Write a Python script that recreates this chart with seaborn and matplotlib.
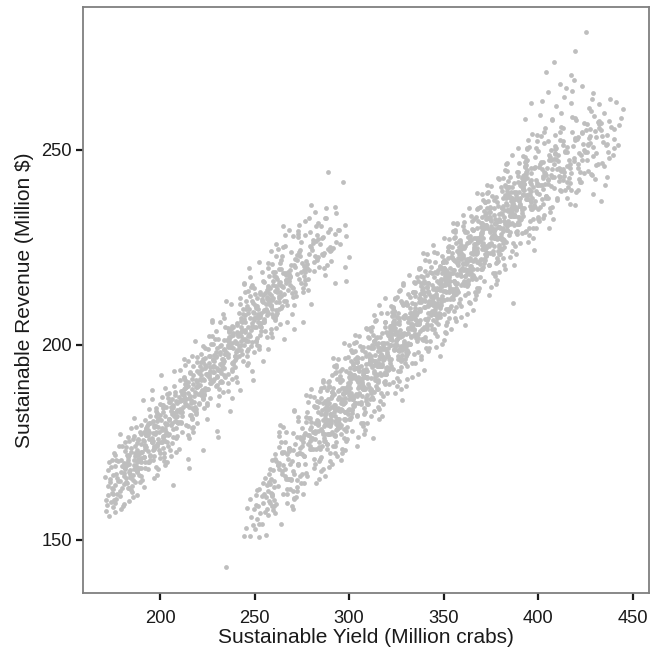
import matplotlib
matplotlib.use("Agg")
import matplotlib.pyplot as plt
import seaborn as sns
import pandas as pd

# ---- points, grouped in small vertical strips: ([yields], [revenues]) ----
left_a = [
    ([171.2, 170.8, 171.6], [160.3, 166.1, 157.4]),
    ([172.3, 171.9, 172.5], [163.8, 158.9, 168.0]),
    ([173.1, 172.7, 173.4, 173.0], [156.2, 161.5, 165.7, 170.1]),
    ([174.2, 173.8, 174.5, 174.1], [159.8, 164.9, 162.0, 168.6]),
    ([175.3, 174.9, 175.1, 175.6, 174.7], [158.5, 166.7, 161.9, 172.3, 163.4]),
    ([176.2, 175.8, 176.4, 176.0, 176.7], [169.0, 160.2, 164.1, 157.3, 166.8]),
    ([178.7, 174.6, 177.5, 176.1, 179.9], [162.6, 170.5, 165.9, 159.4, 174.0]),
    ([174.9, 179.2, 176.4, 180.2, 177.7], [163.0, 167.4, 171.8, 158.7, 165.1]),
    ([179.8, 177.0, 181.6, 180.7, 176.6, 179.5], [168.9, 161.7, 175.2, 164.4, 170.6, 157.9]),
    ([179.1, 182.9, 176.9, 181.2, 178.4], [165.2, 171.3, 160.5, 168.7, 174.1]),
    ([183.2, 180.7, 181.8, 179.0, 183.6, 182.7], [163.3, 169.8, 166.0, 177.2, 160.1, 171.9]),
    ([179.6, 182.5, 181.1, 184.9, 178.9], [170.4, 164.7, 167.1, 178.6, 161.2]),
    ([184.2, 181.4, 185.2, 182.7, 183.8, 181.0], [166.9, 172.8, 162.4, 169.7, 175.3, 159.3]),
    ([186.6, 185.7, 181.6, 184.5, 183.1], [171.5, 165.4, 168.2, 162.7, 176.4]),
    ([187.9, 181.9, 186.2, 183.4, 187.2, 184.7], [167.5, 173.9, 170.6, 163.2, 178.9, 165.8]),
    ([186.8, 184.0, 188.6, 187.7, 183.6, 186.5], [172.2, 168.0, 175.6, 161.6, 169.5, 181.4]),
    ([186.1, 189.9, 183.9, 188.2, 185.4, 189.2], [169.3, 174.7, 166.1, 171.9, 163.9, 177.8]),
    ([187.7, 188.8, 186.0, 190.6, 189.7, 185.6], [173.0, 168.4, 176.6, 165.3, 171.1, 160.9]),
    ([189.5, 188.1, 191.9, 185.9, 190.2, 187.4], [170.2, 175.8, 173.4, 166.7, 179.5, 168.9]),
    ([192.2, 189.7, 190.8, 188.0, 192.6, 191.7, 187.6], [174.3, 170.0, 186.0, 167.6, 176.9, 163.5, 172.1]),
    ([191.5, 190.1, 193.9, 187.9, 192.2, 189.4], [171.4, 177.3, 168.2, 174.8, 180.7, 164.9]),
    ([194.2, 191.7, 192.8, 190.0, 194.6, 193.7], [176.0, 171.2, 173.9, 168.4, 181.9, 178.2]),
    ([190.6, 193.5, 192.1, 195.9, 189.9, 194.2], [172.5, 177.6, 169.9, 175.2, 166.3, 183.7]),
    ([192.4, 196.2, 193.7, 194.8, 192.0, 196.6], [176.9, 173.1, 179.8, 170.4, 174.0, 165.8]),
    ([196.7, 192.6, 195.5, 194.1, 197.9, 191.9, 196.2], [173.7, 178.5, 176.2, 170.1, 183.0, 168.4, 180.6]),
    ([194.4, 198.2, 195.7, 196.8, 194.0, 198.6], [177.7, 174.2, 188.4, 171.6, 179.9, 166.7]),
    ([198.7, 194.6, 197.5, 196.1, 199.9, 193.9], [174.9, 180.1, 177.3, 170.5, 184.8, 172.8]),
    ([199.2, 196.4, 200.2, 197.7, 198.8, 196.0], [179.0, 175.5, 172.2, 181.7, 168.1, 186.2]),
    ([201.6, 200.7, 196.6, 199.5, 198.1, 201.9], [176.1, 180.8, 178.9, 173.0, 183.9, 170.3]),
    ([196.9, 201.2, 198.4, 202.2, 199.7, 200.8, 198.0], [179.6, 175.2, 182.5, 171.4, 177.8, 186.7, 168.6]),
    ([203.6, 202.7, 198.6, 201.5, 200.1, 203.9], [177.2, 181.9, 174.5, 184.6, 170.9, 179.7]),
    ([198.9, 203.2, 200.4, 204.2, 201.7, 202.8], [181.0, 177.6, 192.3, 174.1, 183.8, 169.2]),
    ([201.0, 205.6, 204.7, 200.6, 203.5, 202.1], [178.3, 183.1, 180.9, 175.0, 187.4, 172.4]),
    ([206.9, 200.9, 205.2, 202.4, 206.2, 203.7], [182.6, 178.7, 185.5, 175.3, 180.0, 170.0]),
    ([205.8, 203.0, 207.6, 206.7, 202.6, 205.5, 204.1], [179.6, 184.2, 181.8, 176.4, 188.9, 173.1, 186.3]),
    ([208.9, 202.9, 207.2, 204.4, 208.2, 205.7], [183.4, 179.9, 193.3, 176.9, 185.7, 171.5]),
    ([207.8, 205.0, 206.9, 208.7, 204.6, 207.5], [180.6, 185.5, 164.2, 182.9, 177.3, 189.6]),
    ([207.1, 210.9, 204.9, 209.2, 206.4, 210.2], [184.7, 180.0, 187.8, 176.6, 182.2, 173.4]),
    ([208.7, 209.8, 207.0, 211.6, 210.7, 206.6], [181.5, 186.6, 184.1, 177.8, 190.9, 174.9]),
    ([210.5, 209.1, 212.9, 206.9, 211.2, 208.4, 212.2], [185.7, 181.9, 196.5, 178.5, 188.3, 172.6, 184.0]),
]
left_b = [
    ([210.7, 211.8, 209.0, 213.6, 212.7, 208.6], [182.8, 187.4, 185.2, 179.4, 191.8, 176.1]),
    ([212.5, 211.1, 214.9, 208.9, 213.2, 210.4], [186.9, 183.3, 170.8, 180.2, 189.9, 193.6]),
    ([215.2, 212.7, 213.8, 211.0, 215.6, 214.7], [184.0, 188.8, 186.2, 180.3, 192.7, 177.0]),
    ([211.6, 214.5, 213.1, 216.9, 210.9, 215.2], [188.1, 184.6, 191.0, 181.2, 186.0, 176.2]),
    ([213.4, 217.2, 214.7, 215.8, 213.0, 217.6, 216.7], [185.2, 189.9, 187.6, 182.0, 194.8, 179.0, 197.3]),
    ([213.6, 216.5, 215.1, 218.9, 212.9, 217.2], [189.2, 185.8, 168.5, 182.9, 191.6, 177.7]),
    ([215.4, 219.2, 216.7, 217.8, 215.0, 219.6], [186.3, 191.0, 188.7, 183.2, 195.9, 180.1]),
    ([219.7, 215.6, 218.5, 217.1, 220.9, 214.9], [190.4, 186.8, 201.0, 183.9, 193.3, 179.2]),
    ([220.2, 217.4, 221.2, 218.7, 219.8, 217.0], [187.5, 192.2, 189.8, 184.1, 196.8, 181.1]),
    ([222.6, 221.7, 217.6, 220.5, 219.1, 222.9, 216.9], [191.4, 187.9, 194.6, 184.9, 189.3, 199.7, 178.8]),
    ([222.2, 219.4, 223.2, 220.7, 221.8, 219.0], [188.5, 193.3, 190.9, 185.2, 197.8, 182.4]),
    ([224.6, 223.7, 219.6, 222.5, 221.1, 224.9], [192.6, 189.0, 195.7, 186.1, 191.2, 181.0]),
    ([219.9, 224.2, 222.8, 225.2, 222.7, 223.8], [189.7, 194.5, 173.0, 192.0, 186.4, 199.1]),
    ([222.0, 226.6, 225.7, 221.6, 224.5, 223.1], [193.8, 190.2, 197.1, 187.3, 192.6, 183.8]),
    ([227.9, 221.9, 226.2, 223.4, 227.2, 224.7, 225.8], [190.8, 195.6, 193.2, 187.5, 200.3, 184.6, 202.3]),
    ([224.0, 228.6, 227.7, 223.6, 226.5, 225.1], [194.9, 191.3, 206.4, 188.4, 197.2, 185.0]),
    ([229.9, 223.9, 228.2, 225.4, 229.2, 226.7], [192.0, 196.7, 194.3, 188.7, 201.6, 186.3]),
    ([228.8, 226.0, 230.6, 229.7, 225.6, 228.5], [196.0, 192.5, 176.5, 189.5, 199.0, 194.7]),
    ([228.1, 231.9, 225.9, 230.2, 227.4, 231.2], [193.1, 197.8, 195.4, 189.7, 202.4, 186.9]),
    ([229.7, 230.8, 228.0, 232.6, 231.7, 227.6, 230.5], [197.1, 193.6, 200.3, 190.6, 195.0, 205.8, 184.5]),
    ([230.1, 233.9, 227.9, 232.2, 229.4, 233.2], [194.2, 198.9, 196.5, 190.8, 203.5, 187.9]),
    ([231.7, 232.8, 230.0, 234.6, 233.7, 229.6], [198.3, 194.7, 178.0, 191.8, 201.3, 196.9]),
    ([233.5, 232.1, 235.9, 229.9, 234.2, 231.4], [195.3, 200.1, 197.7, 191.9, 204.6, 188.6]),
    ([236.2, 233.7, 234.8, 232.0, 236.6, 235.7], [199.4, 195.9, 211.2, 192.9, 202.0, 188.1]),
    ([232.6, 235.5, 234.1, 237.9, 231.9, 236.2, 233.4], [196.5, 201.2, 198.8, 193.2, 205.8, 190.2, 208.0]),
    ([238.2, 235.7, 236.8, 234.0, 238.6, 237.7], [200.5, 197.0, 183.0, 194.1, 203.1, 199.5]),
    ([234.6, 237.5, 236.1, 239.9, 233.9, 238.2], [197.6, 202.4, 200.0, 194.3, 207.0, 191.4]),
    ([236.4, 240.2, 237.7, 238.8, 236.0, 240.6], [201.6, 198.2, 210.5, 195.2, 204.4, 190.5]),
    ([240.7, 236.6, 239.5, 238.1, 241.9, 235.9], [198.8, 203.5, 201.1, 195.4, 208.2, 192.6]),
    ([241.2, 238.4, 242.2, 239.7, 240.8, 238.0, 242.6], [202.8, 199.3, 212.0, 196.2, 205.6, 186.5, 201.0]),
    ([242.7, 238.6, 241.5, 240.1, 243.9, 237.9], [199.9, 204.6, 202.2, 196.6, 209.3, 193.8]),
    ([243.2, 240.4, 244.2, 241.7, 242.8, 240.0], [203.9, 200.5, 216.0, 197.3, 206.8, 191.9]),
    ([245.6, 244.7, 240.6, 243.5, 242.1, 245.9], [201.0, 205.8, 203.4, 197.6, 210.4, 194.9]),
    ([240.9, 245.2, 242.4, 246.2, 243.7, 244.8], [205.1, 201.6, 188.5, 198.5, 208.0, 213.7]),
    ([243.0, 247.6, 246.7, 242.6, 245.5, 244.1, 247.9], [202.2, 206.9, 204.5, 198.8, 211.4, 196.0, 214.9]),
    ([242.9, 247.2, 244.4, 248.2, 245.7, 246.8], [206.2, 202.7, 215.6, 199.7, 209.1, 195.4]),
    ([245.0, 249.6, 248.7, 244.6, 247.5, 246.1], [203.3, 208.1, 205.6, 199.9, 212.6, 197.1]),
    ([250.9, 244.9, 249.2, 246.4, 250.2, 247.7], [207.3, 203.8, 191.0, 200.9, 210.2, 217.4]),
    ([249.8, 247.0, 251.6, 250.7, 246.6, 249.5], [204.5, 209.2, 206.8, 201.1, 213.8, 198.3]),
    ([249.1, 252.9, 246.9, 251.2, 248.4, 252.2, 249.7], [208.4, 205.0, 219.7, 201.9, 211.3, 199.0, 214.7]),
]
left_c = [
    ([251.8, 249.0, 253.6, 252.7, 248.6, 251.5], [205.9, 210.7, 208.3, 202.6, 215.3, 199.9]),
    ([251.1, 254.9, 248.9, 253.2, 250.4, 254.2], [210.0, 206.6, 193.4, 203.5, 213.0, 218.8]),
    ([252.7, 253.8, 251.0, 255.6, 254.7, 250.6], [207.1, 211.8, 209.5, 203.7, 216.4, 200.9]),
    ([254.5, 253.1, 256.9, 250.9, 255.2, 252.4], [211.1, 207.7, 214.5, 204.6, 209.0, 199.8]),
    ([257.2, 254.7, 255.8, 253.0, 257.6, 256.7, 252.6], [208.2, 212.9, 210.6, 204.8, 217.6, 202.0, 221.4]),
    ([256.5, 255.1, 258.9, 252.9, 257.2, 254.4], [212.2, 208.8, 224.0, 205.7, 215.1, 196.0]),
    ([259.2, 256.7, 257.8, 255.0, 259.6, 258.7], [209.3, 214.1, 211.6, 206.0, 218.7, 203.1]),
    ([255.6, 258.5, 257.1, 260.9, 254.9, 259.2], [213.3, 209.9, 221.1, 206.8, 216.2, 202.0]),
    ([257.4, 261.2, 258.7, 259.8, 257.0, 261.6], [210.5, 215.2, 212.8, 207.1, 219.8, 204.3]),
    ([261.7, 257.6, 260.5, 259.1, 262.9, 256.9, 261.2], [214.4, 210.9, 217.6, 207.9, 212.1, 199.0, 222.7]),
    ([259.4, 263.2, 260.7, 261.8, 259.0, 263.6], [211.5, 216.2, 213.9, 208.1, 220.8, 205.3]),
    ([263.7, 259.6, 262.5, 261.1, 264.9, 258.9], [215.5, 212.0, 224.6, 209.0, 218.4, 204.1]),
    ([264.2, 261.4, 265.2, 262.7, 263.8, 261.0], [212.6, 217.3, 214.9, 209.2, 221.9, 206.4]),
    ([266.6, 265.7, 261.6, 264.5, 263.1, 266.9], [216.6, 213.1, 226.0, 210.1, 219.5, 205.8]),
    ([261.9, 266.2, 265.0, 267.2, 264.7, 265.8, 263.0], [213.7, 218.4, 230.4, 210.3, 222.7, 201.5, 216.0]),
    ([268.6, 267.7, 263.6, 266.5, 265.1], [217.7, 214.2, 221.1, 211.2, 225.0]),
    ([269.9, 263.9, 268.2, 265.4, 269.2], [214.8, 219.5, 217.1, 211.4, 223.8]),
    ([267.7, 268.8, 266.0, 270.6, 269.7], [218.8, 215.3, 228.3, 212.2, 207.9]),
    ([266.6, 269.5, 268.1, 271.9, 265.9], [215.9, 220.6, 218.2, 212.5, 225.3]),
    ([271.2, 268.4, 272.2, 269.7, 270.8, 268.0], [219.9, 216.4, 223.1, 213.4, 204.0, 229.5]),
    ([273.6, 272.7, 268.6, 271.5, 270.1], [217.0, 221.7, 219.3, 213.6, 227.9]),
    ([274.9, 268.9, 273.2, 270.4, 274.2], [221.0, 217.5, 228.5, 214.5, 224.3]),
    ([272.7, 273.8, 271.0, 275.6, 274.7], [218.1, 222.8, 220.4, 214.7, 226.4]),
    ([271.6, 274.5, 273.1, 276.9, 270.9], [222.1, 218.6, 229.3, 215.6, 210.2]),
    ([276.2, 273.4, 277.2, 274.7, 275.8, 273.0], [219.2, 223.9, 221.5, 215.8, 206.0, 227.6]),
    ([278.6, 277.7, 273.6, 276.5], [223.2, 219.7, 230.8, 216.7]),
    ([276.1, 279.9, 276.7, 278.2, 275.4], [220.3, 225.0, 231.7, 216.9, 213.5]),
    ([280.2, 277.7, 278.8, 276.0], [224.3, 220.8, 232.5, 217.8]),
    ([281.6, 280.7, 276.6, 279.5], [221.4, 226.1, 218.6, 229.0]),
    ([279.1, 282.9, 276.9, 281.2, 278.4], [225.4, 221.9, 228.2, 218.9, 214.0]),
    ([283.2, 280.7, 281.8, 279.0], [222.2, 226.9, 234.0, 219.1]),
    ([284.6, 283.7, 279.6, 282.5], [226.0, 222.5, 236.0, 230.4]),
    ([282.1, 285.9, 279.9, 284.2], [222.8, 227.5, 210.5, 219.9]),
    ([282.4, 286.2, 283.7], [226.6, 223.1, 231.2]),
    ([285.8, 283.0, 287.6, 286.7], [223.4, 228.1, 235.1, 219.8]),
    ([283.6, 286.5, 285.1], [227.2, 223.7, 230.6]),
    ([289.9, 287.0, 288.2], [224.0, 232.5, 220.4]),
    ([286.4, 290.2], [227.8, 224.3]),
    ([288.7, 289.8, 287.0], [224.6, 229.7, 218.0]),
    ([292.6, 291.7, 287.6, 290.5], [228.4, 224.9, 232.6, 221.5]),
    ([290.1, 293.9], [225.2, 229.4]),
    ([288.9, 293.2, 292.6], [229.0, 233.9, 235.5]),
    ([295.2, 292.7], [225.8, 216.0]),
    ([294.8, 293.0, 297.6], [229.6, 226.4, 220.0]),
    ([297.6, 298.2, 298.4, 299.9], [230.7, 216.5, 228.0, 222.5]),
]
left_core = [
    ([181.8, 177.8, 181.4, 179.9, 184.6, 183.8], [164.8, 170.2, 168.8, 163.2, 172.5, 167.4]),
    ([180.8, 183.4, 182.9, 186.6, 186.8, 182.8], [166.5, 171.9, 170.5, 164.9, 174.2, 169.1]),
    ([186.4, 184.9, 189.6, 188.8, 185.8, 188.4], [168.2, 173.6, 172.2, 166.6, 175.9, 170.8]),
    ([187.9, 191.6, 191.8, 187.8, 191.4, 189.9], [169.9, 175.3, 174.0, 168.4, 177.6, 172.5]),
    ([194.6, 193.8, 190.8, 193.4, 192.9, 196.6], [171.6, 177.0, 175.7, 170.1, 179.3, 174.2]),
    ([196.8, 192.8, 196.4, 194.9, 199.6, 198.8], [173.3, 178.7, 177.4, 171.8, 181.0, 175.9]),
    ([195.8, 198.4, 197.9, 201.6, 201.8, 197.8], [175.0, 180.4, 179.1, 173.5, 182.8, 177.7]),
    ([201.4, 199.9, 204.6, 203.8, 200.8, 203.4], [176.7, 182.1, 180.8, 175.2, 184.5, 179.4]),
    ([202.9, 206.6, 206.8, 202.8, 206.4, 204.9], [178.4, 183.8, 182.5, 176.9, 186.2, 181.1]),
    ([209.6, 208.8, 205.8, 208.4, 207.9, 211.6], [180.1, 185.5, 184.2, 178.6, 187.9, 182.8]),
    ([211.8, 207.8, 211.4, 209.9, 214.6, 213.8], [181.8, 187.2, 185.9, 180.3, 189.6, 184.5]),
    ([210.8, 213.4, 212.9, 216.6, 216.8, 212.8], [183.5, 188.9, 187.6, 182.0, 191.3, 186.2]),
    ([216.4, 214.9, 219.6, 218.8, 215.8, 218.4], [185.2, 190.6, 189.3, 183.7, 193.0, 187.9]),
    ([217.9, 221.6, 221.8, 217.8, 221.4, 219.9], [186.9, 192.3, 191.0, 185.4, 194.7, 189.6]),
    ([224.6, 223.8, 220.8, 223.4, 222.9, 226.6], [188.6, 194.0, 192.7, 187.1, 196.4, 191.3]),
    ([226.8, 222.8, 226.4, 224.9, 229.6, 228.8], [190.3, 195.7, 194.4, 188.8, 198.1, 193.0]),
    ([225.8, 228.4, 227.9, 231.6, 231.8, 227.8], [192.0, 197.4, 196.1, 190.5, 199.8, 194.7]),
    ([231.4, 229.9, 234.6, 233.8, 230.8, 233.4], [193.7, 199.1, 197.8, 192.2, 201.5, 196.4]),
    ([232.9, 236.6, 236.8, 232.8, 236.4, 234.9], [195.4, 200.8, 199.5, 193.9, 203.2, 198.1]),
    ([239.6, 238.8, 235.8, 238.4, 237.9, 241.6], [197.1, 202.5, 201.2, 195.6, 204.9, 199.8]),
    ([241.8, 237.8, 241.4, 239.9, 244.6, 243.8], [198.8, 204.2, 202.9, 197.3, 206.6, 201.5]),
    ([240.8, 243.4, 242.9, 246.6, 246.8, 242.8], [200.5, 205.9, 204.6, 199.0, 208.3, 203.2]),
    ([246.4, 244.9, 249.6, 248.8, 245.8, 248.4], [202.2, 207.6, 206.3, 200.7, 210.0, 204.9]),
    ([247.9, 251.6, 251.8, 247.8, 251.4, 249.9], [203.9, 209.3, 208.0, 202.4, 212.1, 207.0]),
    ([254.6, 253.8, 250.8, 253.4, 252.9, 256.6], [206.0, 211.4, 210.1, 204.5, 213.7, 208.6]),
    ([256.8, 252.8, 256.4, 254.9, 259.6, 258.8], [207.7, 213.1, 211.7, 206.1, 215.4, 210.3]),
    ([255.8, 258.4, 257.9, 261.6, 261.8, 257.8], [209.3, 214.7, 213.4, 207.8, 217.0, 211.9]),
    ([261.4, 259.9, 264.6, 263.8, 260.8, 263.4], [211.0, 216.4, 215.0, 209.4, 218.7, 213.6]),
    ([262.9, 266.6, 266.8, 262.8], [212.6, 218.0, 216.7, 211.1]),
]
right_a = [
    ([244.3, 246.2, 245.6, 247.4, 248.3, 247.7, 249.2], [151.0, 158.2, 153.1, 150.9, 156.0, 160.4, 153.8]),
    ([250.4, 249.6, 250.8, 251.3, 250.7, 251.5, 252.2, 251.8, 252.6, 252.4],
     [152.7, 157.9, 161.6, 155.4, 159.0, 162.9, 150.8, 158.6, 163.1, 154.0]),
    ([253.1, 253.7, 254.4, 253.8, 254.6, 255.3, 254.9, 255.7],
     [156.9, 161.3, 159.5, 154.2, 164.7, 157.3, 161.8, 166.0]),
    ([256.2, 255.8, 256.6, 256.4, 257.3, 256.9, 257.5, 257.8],
     [151.2, 160.9, 164.2, 158.0, 162.5, 156.4, 166.8, 160.1]),
    ([258.2, 257.6, 258.7, 258.4, 259.3, 258.9, 259.6, 259.1],
     [159.6, 164.9, 162.0, 168.3, 161.2, 165.7, 157.8, 170.4]),
    ([260.2, 259.8, 260.5, 260.1, 260.7], [163.7, 167.9, 160.3, 165.2, 172.1]),
    ([258.4, 262.9, 260.3, 263.8, 259.1, 261.4], [164.3, 169.8, 158.8, 175.1, 161.9, 170.3]),
    ([264.3, 259.0, 263.1, 260.7, 262.2, 259.4], [166.8, 161.6, 173.9, 156.9, 169.2, 158.8]),
    ([264.9, 262.3, 265.8, 261.1, 263.4], [169.1, 163.8, 172.6, 159.3, 179.4]),
    ([266.3, 261.0, 265.1, 262.7, 264.2], [166.3, 170.8, 161.7, 177.6, 154.1]),
    ([262.4, 266.9, 264.3, 267.8, 263.1], [169.3, 161.7, 172.6, 165.6, 176.7]),
    ([266.4, 268.3, 263.0, 267.1, 264.7], [165.7, 173.6, 168.2, 159.6, 172.2]),
    ([267.2, 264.4, 268.9, 266.3, 269.8], [172.1, 167.8, 163.1, 175.0, 158.8]),
    ([266.1, 268.4, 270.3, 265.0, 269.1], [168.1, 173.6, 162.6, 178.9, 165.7]),
    ([267.7, 269.2, 266.4, 270.9, 268.3, 271.8], [170.7, 165.5, 177.8, 160.8, 173.1, 161.0]),
    ([268.1, 270.4, 272.3, 267.0, 271.1], [172.9, 167.6, 176.4, 163.1, 183.2]),
    ([269.7, 271.2, 268.4, 272.9, 270.3, 273.8], [170.2, 174.7, 165.6, 181.5, 158.0, 172.3]),
    ([270.1, 272.4, 274.3, 269.0, 273.1, 270.7], [173.1, 165.5, 176.4, 169.4, 180.5, 160.6]),
    ([273.2, 270.4, 274.9, 272.3, 275.8, 271.1], [169.6, 177.5, 172.1, 163.5, 176.1, 183.1]),
    ([274.4, 276.3, 271.0, 275.1, 272.7, 274.2], [175.9, 171.6, 166.9, 178.8, 162.6, 173.6]),
    ([272.4, 276.9, 274.3, 277.8, 273.1, 275.4], [172.0, 177.5, 166.5, 182.8, 169.6, 175.2]),
    ([278.3, 273.0, 277.1, 274.7, 276.2, 273.4], [174.5, 169.3, 181.6, 164.6, 176.9, 172.2]),
    ([278.9, 276.3, 279.8, 275.1, 277.4, 279.3], [176.8, 171.5, 180.3, 167.0, 187.1, 174.0]),
    ([275.0, 279.1, 276.7, 278.2, 275.4, 279.9], [174.0, 178.5, 169.4, 185.3, 161.8, 176.1]),
    ([278.3, 281.8, 277.1, 279.4, 281.3, 276.0], [177.0, 169.4, 180.3, 173.3, 184.4, 164.5]),
    ([281.1, 278.7, 280.2, 277.4, 281.9, 279.3], [173.4, 181.3, 175.9, 167.3, 179.9, 186.9]),
    ([283.8, 279.1, 281.4, 283.3, 278.0, 282.1, 279.7], [179.8, 175.5, 170.8, 182.7, 166.5, 177.5, 188.6]),
    ([282.2, 279.4, 283.9, 281.3, 284.8, 280.1, 282.4], [175.8, 181.3, 170.3, 186.6, 173.4, 179.0, 164.7]),
    ([285.3, 280.0, 284.1, 281.7, 283.2, 280.4, 284.9], [178.4, 173.2, 185.5, 168.5, 180.8, 176.1, 189.0]),
    ([283.3, 286.8, 282.1, 284.4, 286.3, 281.0, 285.1], [180.6, 175.3, 184.1, 170.8, 190.9, 177.8, 167.6]),
    ([283.7, 285.2, 282.4, 286.9, 284.3, 287.8, 283.1], [177.9, 182.4, 173.3, 189.2, 165.7, 180.0, 185.7]),
    ([286.4, 288.3, 283.0, 287.1, 284.7, 286.2, 283.4], [180.8, 173.2, 184.1, 177.1, 188.2, 168.3, 179.5]),
    ([288.9, 286.3, 289.8, 285.1, 287.4, 289.3, 284.0], [177.3, 185.2, 179.8, 171.2, 183.8, 190.8, 175.0]),
    ([289.1, 286.7, 288.2, 285.4, 289.9, 287.3, 290.8], [183.6, 179.3, 174.6, 186.5, 170.3, 181.3, 192.4]),
    ([287.1, 289.4, 291.3, 286.0, 290.1, 287.7, 289.2], [179.7, 185.2, 174.2, 190.5, 177.3, 182.9, 168.6]),
    ([287.4, 291.9, 289.3, 292.8, 288.1, 290.4, 292.3, 287.0], [182.2, 177.0, 189.3, 172.3, 184.6, 179.9, 192.8, 166.5]),
    ([292.1, 289.7, 291.2, 288.4, 292.9, 290.3, 293.8, 289.1], [184.5, 179.2, 188.0, 174.7, 194.8, 181.7, 171.5, 190.4]),
    ([292.4, 294.3, 289.0, 293.1, 290.7, 292.2, 289.4, 293.9], [181.7, 186.2, 177.1, 193.0, 169.5, 183.8, 189.5, 179.3]),
    ([292.3, 295.8, 291.1, 293.4, 295.3, 290.0, 294.1, 291.7], [184.7, 177.1, 188.0, 181.0, 192.1, 172.2, 183.4, 196.7]),
    ([294.2, 291.4, 295.9, 293.3, 296.8, 292.1, 294.4, 296.3], [181.1, 189.0, 183.6, 175.0, 187.6, 194.6, 178.8, 190.9]),
    ([292.0, 296.1, 293.7, 295.2, 292.4, 296.9, 294.3, 297.8], [187.5, 183.2, 178.5, 190.4, 174.2, 185.2, 196.3, 180.7]),
    ([294.1, 296.4, 298.3, 293.0, 297.1, 294.7, 296.2, 293.4, 297.9], [183.5, 189.0, 178.0, 194.3, 181.1, 186.7, 172.4, 191.4, 173.0]),
    ([296.3, 299.8, 295.1, 297.4, 299.3, 294.0, 298.1, 295.7], [186.1, 180.9, 193.2, 176.2, 188.5, 183.8, 196.7, 170.4]),
    ([298.2, 295.4, 299.9, 297.3, 300.8, 296.1, 298.4, 300.3], [188.3, 183.0, 191.8, 178.5, 198.6, 185.5, 175.3, 194.2]),
    ([296.0, 300.1, 297.7, 299.2, 296.4, 300.9, 298.3, 301.8], [185.6, 190.1, 181.0, 196.9, 173.4, 187.7, 193.4, 183.2]),
    ([298.1, 300.4, 302.3, 297.0, 301.1, 298.7, 300.2, 297.4], [188.5, 180.9, 191.8, 184.8, 195.9, 176.0, 187.2, 200.5]),
]
right_b = [
    ([302.9, 300.3, 303.8, 299.1, 301.4, 303.3, 298.0, 302.1], [185.0, 192.9, 187.5, 178.9, 191.5, 198.5, 182.7, 194.8]),
    ([300.7, 302.2, 299.4, 303.9, 301.3, 304.8, 300.1, 302.4], [191.3, 187.0, 182.3, 194.2, 178.0, 189.0, 200.1, 184.5]),
    ([305.3, 300.0, 304.1, 301.7, 303.2, 300.4, 304.9, 302.3], [187.4, 192.9, 181.9, 198.2, 185.0, 190.6, 176.3, 195.3]),
    ([306.8, 302.1, 304.4, 306.3, 301.0, 305.1, 302.7, 304.2], [189.9, 184.7, 197.0, 180.0, 192.3, 187.6, 200.5, 174.2]),
    ([302.4, 306.9, 304.3, 307.8, 303.1, 305.4, 307.3, 302.0], [192.2, 186.9, 195.7, 182.4, 202.5, 189.4, 179.2, 198.1]),
    ([307.1, 304.7, 306.2, 303.4, 307.9, 305.3, 308.8, 304.1], [189.4, 193.9, 184.8, 200.7, 177.2, 191.5, 197.2, 187.0]),
    ([307.4, 309.3, 304.0, 308.1, 305.7, 307.2, 304.4, 308.9], [192.4, 184.8, 195.7, 188.7, 199.8, 179.9, 191.1, 204.4]),
    ([307.3, 310.8, 306.1, 308.4, 310.3, 305.0, 309.1, 306.7], [188.8, 196.7, 191.3, 182.7, 195.3, 202.3, 186.5, 198.6]),
    ([309.2, 306.4, 310.9, 308.3, 311.8, 307.1, 309.4, 311.3], [195.2, 190.9, 186.2, 198.1, 181.9, 192.9, 204.0, 188.4]),
    ([307.0, 311.1, 308.7, 310.2, 307.4, 311.9, 309.3, 312.8], [191.2, 196.7, 185.7, 202.0, 188.8, 194.4, 180.1, 199.1]),
    ([309.1, 311.4, 313.3, 308.0, 312.1, 309.7, 311.2, 308.4, 312.9], [193.8, 188.6, 200.9, 183.9, 196.2, 191.5, 204.4, 178.1, 176.2]),
    ([311.3, 314.8, 310.1, 312.4, 314.3, 309.0, 313.1, 310.7], [196.0, 190.7, 199.5, 186.2, 206.3, 193.2, 183.0, 201.9]),
    ([313.2, 310.4, 314.9, 312.3, 315.8, 311.1, 313.4, 315.3], [193.3, 197.8, 188.7, 204.6, 181.1, 195.4, 201.1, 190.9]),
    ([311.0, 315.1, 312.7, 314.2, 311.4, 315.9, 313.3, 316.8], [196.2, 188.6, 199.5, 192.5, 203.6, 183.7, 194.9, 208.2]),
    ([313.1, 315.4, 317.3, 312.0, 316.1, 313.7, 315.2, 312.4], [192.7, 200.6, 195.2, 186.6, 199.2, 206.2, 190.4, 202.5]),
    ([317.9, 315.3, 318.8, 314.1, 316.4, 318.3, 313.0, 317.1], [199.0, 194.7, 190.0, 201.9, 185.7, 196.7, 207.8, 192.2]),
    ([315.7, 317.2, 314.4, 318.9, 316.3, 319.8, 315.1, 317.4], [195.1, 200.6, 189.6, 205.9, 192.7, 198.3, 184.0, 203.0]),
    ([320.3, 315.0, 319.1, 316.7, 318.2, 315.4, 319.9, 317.3], [197.6, 192.4, 204.7, 187.7, 200.0, 195.3, 208.2, 181.9]),
    ([321.8, 317.1, 319.4, 321.3, 316.0, 320.1, 317.7, 319.2], [199.9, 194.6, 203.4, 190.1, 210.2, 197.1, 186.9, 205.8]),
    ([317.4, 321.9, 319.3, 322.8, 318.1, 320.4, 322.3, 317.0], [197.1, 201.6, 192.5, 208.4, 184.9, 199.2, 204.9, 194.7]),
    ([322.1, 319.7, 321.2, 318.4, 322.9, 320.3, 323.8, 319.1], [200.1, 192.5, 203.4, 196.4, 207.5, 187.6, 198.8, 212.1]),
    ([322.4, 324.3, 319.0, 323.1, 320.7, 322.2, 319.4, 323.9], [196.5, 204.4, 199.0, 190.4, 203.0, 210.0, 194.2, 206.3]),
    ([322.3, 325.8, 321.1, 323.4, 325.3, 320.0, 324.1, 321.7], [202.9, 198.6, 193.9, 205.8, 189.6, 200.6, 211.7, 196.1]),
    ([324.2, 321.4, 325.9, 323.3, 326.8, 322.1, 324.4, 326.3], [198.9, 204.4, 193.4, 209.7, 196.5, 202.1, 187.8, 206.8]),
    ([322.0, 326.1, 323.7, 325.2, 322.4, 326.9, 324.3, 327.8], [201.5, 196.3, 208.6, 191.6, 203.9, 199.2, 212.1, 185.8]),
    ([324.1, 326.4, 328.3, 323.0, 327.1, 324.7, 326.2, 323.4], [203.7, 198.4, 207.2, 193.9, 214.0, 200.9, 190.7, 209.6]),
    ([328.9, 326.3, 329.8, 325.1, 327.4, 329.3, 324.0, 328.1], [201.0, 205.5, 196.4, 212.3, 188.8, 203.1, 208.8, 198.6]),
    ([326.7, 328.2, 325.4, 329.9, 327.3, 330.8, 326.1, 328.4], [203.9, 196.3, 207.2, 200.2, 211.3, 191.4, 202.6, 215.9]),
    ([331.3, 326.0, 330.1, 327.7, 329.2, 326.4, 330.9, 328.3], [200.4, 208.3, 202.9, 194.3, 206.9, 213.9, 198.1, 210.2]),
    ([332.8, 328.1, 330.4, 332.3, 327.0, 331.1, 328.7, 330.2], [206.7, 202.4, 197.7, 209.6, 193.4, 204.4, 215.5, 199.9]),
    ([328.4, 332.9, 330.3, 333.8, 329.1, 331.4, 333.3, 328.0], [202.8, 208.3, 197.3, 213.6, 200.4, 206.0, 191.7, 210.7]),
    ([333.1, 330.7, 332.2, 329.4, 333.9, 331.3, 334.8, 330.1], [205.3, 200.1, 212.4, 195.4, 207.7, 203.0, 215.9, 189.6]),
    ([333.4, 335.3, 330.0, 334.1, 331.7, 333.2, 330.4, 334.9], [207.6, 202.3, 211.1, 197.8, 217.9, 204.8, 194.6, 213.5]),
    ([333.3, 336.8, 332.1, 334.4, 336.3, 331.0, 335.1, 332.7], [204.8, 209.3, 200.2, 216.1, 192.6, 206.9, 212.6, 202.4]),
    ([335.2, 332.4, 336.9, 334.3, 337.8, 333.1, 335.4, 337.3], [207.8, 200.2, 211.1, 204.1, 215.2, 195.3, 206.5, 219.8]),
    ([333.0, 337.1, 334.7, 336.2, 333.4, 337.9, 335.3, 338.8], [204.2, 212.1, 206.7, 198.1, 210.7, 217.7, 201.9, 214.0]),
    ([335.1, 337.4, 339.3, 334.0, 338.1, 335.7, 337.2, 334.4], [210.6, 206.3, 201.6, 213.5, 197.3, 208.3, 219.4, 203.8]),
    ([339.9, 337.3, 340.8, 336.1, 338.4, 340.3, 335.0, 339.1], [206.6, 212.1, 201.1, 217.4, 204.2, 209.8, 195.5, 214.5]),
    ([337.7, 339.2, 336.4, 340.9, 338.3, 341.8, 337.1, 339.4], [209.2, 204.0, 216.3, 199.3, 211.6, 206.9, 219.8, 193.5]),
    ([342.3, 337.0, 341.1, 338.7, 340.2, 337.4, 341.9, 339.3], [211.4, 206.1, 214.9, 201.6, 221.7, 208.6, 198.4, 217.3]),
    ([343.8, 339.1, 341.4, 343.3, 338.0, 342.1, 339.7, 341.2], [208.7, 213.2, 204.1, 220.0, 196.5, 210.8, 216.5, 206.3]),
    ([339.4, 343.9, 341.3, 344.8, 340.1, 342.4, 344.3, 339.0], [211.6, 204.0, 214.9, 207.9, 219.0, 199.1, 210.3, 223.6]),
    ([344.1, 341.7, 343.2, 340.4, 344.9, 342.3, 345.8, 341.1], [208.1, 216.0, 210.6, 202.0, 214.6, 221.6, 205.8, 217.9]),
    ([344.4, 346.3, 341.0, 345.1, 342.7, 344.2, 341.4, 345.9], [214.4, 210.1, 205.4, 217.3, 201.1, 212.1, 223.2, 207.6]),
    ([344.3, 347.8, 343.1, 345.4, 347.3, 342.0, 346.1, 343.7], [210.5, 216.0, 205.0, 221.3, 208.1, 213.7, 199.4, 218.4]),
    ([346.2, 343.4, 347.9, 345.3, 348.8, 344.1, 346.4, 348.3], [213.0, 207.8, 220.1, 203.1, 215.4, 210.7, 223.6, 197.3]),
    ([344.0, 348.1, 345.7, 347.2, 344.4, 348.9, 346.3, 349.8], [215.3, 210.0, 218.8, 205.5, 225.6, 212.5, 202.3, 221.2]),
    ([346.1, 348.4, 350.3, 345.0, 349.1, 346.7, 348.2, 345.4], [212.5, 217.0, 207.9, 223.8, 200.3, 214.6, 220.3, 210.1]),
    ([350.9, 348.3, 351.8, 347.1, 349.4, 351.3, 346.0, 350.1], [215.5, 207.9, 218.8, 211.8, 222.9, 203.0, 214.2, 227.5]),
    ([348.7, 350.2, 347.4, 351.9, 349.3, 352.8, 348.1, 350.4], [211.9, 219.8, 214.4, 205.8, 218.4, 225.4, 209.6, 221.7]),
]
right_c = [
    ([353.3, 348.0, 352.1, 349.7, 351.2, 348.4, 352.9, 350.3], [218.3, 214.0, 209.3, 221.2, 205.0, 216.0, 227.1, 211.5]),
    ([354.8, 350.1, 352.4, 354.3, 349.0, 353.1, 350.7, 352.2], [214.3, 219.8, 208.8, 225.1, 211.9, 217.5, 203.2, 222.2]),
    ([350.4, 354.9, 352.3, 355.8, 351.1, 353.4, 355.3, 350.0], [216.9, 211.7, 224.0, 207.0, 219.3, 214.6, 227.5, 201.2]),
    ([355.1, 352.7, 354.2, 351.4, 355.9, 353.3, 356.8, 352.1], [219.1, 213.8, 222.6, 209.3, 229.4, 216.3, 206.1, 225.0]),
    ([355.4, 357.3, 352.0, 356.1, 353.7, 355.2, 352.4, 356.9], [216.4, 220.9, 211.8, 227.7, 204.2, 218.5, 224.2, 214.0]),
    ([355.3, 358.8, 354.1, 356.4, 358.3, 353.0, 357.1, 354.7], [219.3, 211.7, 222.6, 215.6, 226.7, 206.8, 218.0, 231.3]),
    ([357.2, 354.4, 358.9, 356.3, 359.8, 355.1, 357.4, 359.3], [215.8, 223.7, 218.3, 209.7, 222.3, 229.3, 213.5, 225.6]),
    ([355.0, 359.1, 356.7, 358.2, 355.4, 359.9, 357.3, 360.8], [222.1, 217.8, 213.1, 225.0, 208.8, 219.8, 230.9, 215.3]),
    ([357.1, 359.4, 361.3, 356.0, 360.1, 357.7, 359.2, 356.4], [218.2, 223.7, 212.7, 229.0, 215.8, 221.4, 207.1, 226.1]),
    ([361.9, 359.3, 362.8, 358.1, 360.4, 362.3, 357.0, 361.1], [220.7, 215.5, 227.8, 210.8, 223.1, 218.4, 231.3, 205.0]),
    ([359.7, 361.2, 358.4, 362.9, 360.3, 363.8, 359.1, 361.4], [223.0, 217.7, 226.5, 213.2, 233.3, 220.2, 210.0, 228.9]),
    ([364.3, 359.0, 363.1, 360.7, 362.2, 359.4, 363.9, 361.3], [220.2, 224.7, 215.6, 231.5, 208.0, 222.3, 228.0, 217.8]),
    ([365.8, 361.1, 363.4, 365.3, 360.0, 364.1, 361.7, 363.2], [223.2, 215.6, 226.5, 219.5, 230.6, 210.7, 221.9, 235.2]),
    ([361.4, 365.9, 363.3, 366.8, 362.1, 364.4, 366.3, 361.0], [219.6, 227.5, 222.1, 213.5, 226.1, 233.1, 217.3, 229.4]),
    ([366.1, 363.7, 365.2, 362.4, 366.9, 364.3, 367.8, 363.1], [226.0, 221.7, 217.0, 228.9, 212.7, 223.7, 234.8, 219.2]),
    ([366.4, 368.3, 363.0, 367.1, 364.7, 366.2, 363.4, 367.9], [222.0, 227.5, 216.5, 232.8, 219.6, 225.2, 210.9, 229.9]),
    ([366.3, 369.8, 365.1, 367.4, 369.3, 364.0, 368.1, 365.7], [224.6, 219.4, 231.7, 214.7, 227.0, 222.3, 235.2, 208.9]),
    ([368.2, 365.4, 369.9, 367.3, 370.8, 366.1, 368.4, 370.3], [226.8, 221.5, 230.3, 217.0, 237.1, 224.0, 213.8, 232.7]),
    ([366.0, 370.1, 367.7, 369.2, 366.4, 370.9, 368.3, 371.8], [224.1, 228.6, 219.5, 235.4, 211.9, 226.2, 231.9, 221.7]),
    ([368.1, 370.4, 372.3, 367.0, 371.1, 368.7, 370.2, 367.4], [227.0, 219.4, 230.3, 223.3, 234.4, 214.5, 225.7, 239.0]),
    ([372.9, 370.3, 373.8, 369.1, 371.4, 373.3, 368.0, 372.1], [223.5, 231.4, 226.0, 217.4, 230.0, 237.0, 221.2, 233.3]),
    ([370.7, 372.2, 369.4, 373.9, 371.3, 374.8, 370.1, 372.4], [229.8, 225.5, 220.8, 232.7, 216.5, 227.5, 238.6, 223.0]),
    ([375.3, 370.0, 374.1, 371.7, 373.2, 370.4, 374.9, 372.3], [225.9, 231.4, 220.4, 236.7, 223.5, 229.1, 214.8, 233.8]),
    ([376.8, 372.1, 374.4, 376.3, 371.0, 375.1, 372.7, 374.2], [228.4, 223.2, 235.5, 218.5, 230.8, 226.1, 239.0, 212.7]),
    ([372.4, 376.9, 374.3, 377.8, 373.1, 375.4, 377.3, 372.0], [230.7, 225.4, 234.2, 220.9, 241.0, 227.9, 217.7, 236.6]),
    ([377.1, 374.7, 376.2, 373.4, 377.9, 375.3, 378.8, 374.1], [227.9, 232.4, 223.3, 239.2, 215.7, 230.0, 235.7, 225.5]),
    ([377.4, 379.3, 374.0, 378.1, 375.7, 377.2, 374.4, 378.9], [230.9, 223.3, 234.2, 227.2, 238.3, 218.4, 229.6, 242.9]),
    ([377.3, 380.8, 376.1, 378.4, 380.3, 375.0, 379.1, 376.7], [227.3, 235.2, 229.8, 221.2, 233.8, 240.8, 225.0, 237.1]),
    ([379.2, 376.4, 380.9, 378.3, 381.8, 377.1, 379.4, 381.3], [233.7, 229.4, 224.7, 236.6, 220.4, 231.4, 242.5, 226.9]),
    ([377.0, 381.1, 378.7, 380.2, 377.4, 381.9, 379.3, 382.8], [229.7, 235.2, 224.2, 240.5, 227.3, 232.9, 218.6, 237.6]),
    ([379.1, 381.4, 383.3, 378.0, 382.1, 379.7, 381.2, 378.4], [232.3, 227.1, 239.4, 222.4, 234.7, 230.0, 242.9, 216.6]),
    ([383.9, 381.3, 384.8, 380.1, 382.4, 384.3, 379.0, 383.1], [234.5, 229.2, 238.0, 224.7, 244.8, 231.7, 221.5, 240.4]),
    ([381.7, 383.2, 380.4, 384.9, 382.3, 385.8, 381.1, 383.4], [231.8, 236.3, 227.2, 243.1, 219.6, 233.9, 239.6, 229.4]),
    ([386.3, 381.0, 385.1, 382.7, 384.2, 381.4, 385.9, 383.3, 386.8], [234.7, 227.1, 238.0, 231.0, 242.1, 222.2, 233.4, 246.7, 210.7]),
    ([383.1, 385.4, 387.3, 382.0, 386.1, 383.7, 385.2, 382.4], [231.2, 239.1, 233.7, 225.1, 237.7, 244.7, 228.9, 241.0]),
    ([387.9, 385.3, 388.8, 384.1, 386.4, 388.3, 383.0, 387.1], [237.5, 233.2, 228.5, 240.4, 224.2, 235.2, 246.3, 230.7]),
    ([385.7, 387.2, 384.4, 388.9, 386.3, 389.8, 385.1, 387.4], [233.6, 239.1, 228.1, 244.4, 231.2, 236.8, 222.5, 241.5]),
    ([390.3, 385.0, 389.1, 386.7, 388.2, 385.4, 389.9, 387.3], [236.1, 230.9, 243.2, 226.2, 238.5, 233.8, 246.7, 220.4]),
    ([391.8, 387.1, 389.4, 391.3, 386.0, 390.1, 387.7, 389.2], [238.4, 233.1, 241.9, 228.6, 248.7, 235.6, 225.4, 244.3]),
    ([387.4, 391.9, 389.3, 392.8, 388.1, 390.4, 392.3, 387.0], [235.6, 240.1, 231.0, 246.9, 223.4, 237.7, 243.4, 233.2]),
    ([392.1, 389.7, 391.2, 388.4, 392.9, 390.3, 393.8, 389.1], [238.6, 231.0, 241.9, 234.9, 246.0, 226.1, 237.3, 250.6]),
    ([392.4, 394.3, 389.0, 393.1, 390.7, 392.2, 389.4, 393.9], [235.0, 242.9, 237.5, 228.9, 241.5, 248.5, 232.7, 244.8]),
    ([392.3, 395.8, 391.1, 393.4, 395.3, 390.0, 394.1, 391.7], [241.4, 237.1, 232.4, 244.3, 228.1, 239.1, 250.2, 234.6]),
    ([394.2, 391.4, 395.9, 393.3, 396.8, 392.1, 394.4, 396.3], [237.4, 242.9, 231.9, 248.2, 235.0, 240.6, 226.3, 245.3]),
    ([392.0, 396.1, 393.7, 395.2, 392.4, 396.9, 394.3, 397.8, 393.1], [240.0, 234.8, 247.1, 230.1, 242.4, 237.7, 250.6, 224.3, 258.0]),
    ([396.4, 398.3, 393.0, 397.1, 394.7, 396.2, 393.4], [242.2, 236.9, 245.7, 232.4, 252.5, 239.4, 229.2]),
    ([398.9, 396.3, 399.8, 395.1, 397.4, 399.3, 394.0], [239.5, 244.0, 234.9, 250.8, 227.3, 241.6, 247.3]),
    ([399.1, 396.7, 398.2, 395.4, 399.9, 397.3, 400.8, 396.1], [242.4, 234.8, 245.7, 238.7, 249.8, 229.9, 241.1, 262.0]),
    ([399.4, 401.3, 396.0, 400.1, 397.7, 399.2, 396.4], [238.9, 246.8, 241.4, 232.8, 245.4, 252.4, 236.6]),
    ([401.9, 399.3, 402.8, 398.1, 400.4, 402.3, 397.0, 401.1], [245.2, 240.9, 236.2, 248.1, 231.9, 242.9, 254.0, 259.0]),
]
right_d = [
    ([399.7, 401.2, 398.4, 402.9, 400.3, 403.8, 399.1], [241.0, 246.5, 235.5, 251.8, 238.6, 244.2, 229.9]),
    ([402.4, 404.3, 399.0, 403.1, 400.7, 402.2, 399.4], [243.3, 238.1, 250.4, 233.4, 245.7, 241.0, 253.9]),
    ([404.9, 402.3, 405.8, 401.1, 403.4, 405.3, 400.0], [245.3, 240.0, 248.8, 235.5, 255.6, 242.5, 232.3]),
    ([405.1, 402.7, 404.2, 401.4, 405.9, 403.3, 406.8, 402.1, 404.4], [242.3, 246.8, 237.7, 253.6, 230.1, 244.4, 250.1, 262.5, 270.0]),
    ([407.3, 402.0, 406.1, 403.7, 405.2, 402.4, 406.9], [245.0, 237.4, 248.3, 241.3, 252.4, 232.5, 243.7]),
    ([405.3, 408.8, 404.1, 406.4, 408.3, 403.0, 407.1], [241.2, 249.1, 243.7, 235.1, 247.7, 254.7, 257.9]),
    ([405.7, 407.2, 404.4, 408.9, 406.3, 409.8, 405.1], [247.3, 243.0, 238.3, 250.2, 234.0, 245.0, 264.8]),
    ([408.4, 410.3, 405.0, 409.1, 406.7, 408.2, 408.5], [243.1, 248.6, 237.6, 253.9, 240.7, 246.3, 272.6]),
    ([410.9, 408.3, 411.8, 407.1, 409.4, 411.3], [245.4, 240.2, 252.5, 235.5, 247.8, 243.1]),
    ([407.0, 411.1, 408.7, 410.2, 407.4, 411.9, 409.3], [247.4, 242.1, 250.9, 237.6, 257.7, 244.6, 261.2]),
    ([413.8, 409.1, 411.4, 413.3, 408.0, 412.1], [244.4, 248.9, 239.8, 255.7, 232.2, 259.6]),
    ([410.7, 412.2, 409.4, 413.9, 411.3, 414.8], [247.1, 239.5, 250.4, 243.4, 254.5, 266.0]),
    ([411.1, 413.4, 415.3, 410.0, 414.1, 411.7], [243.3, 251.2, 245.8, 237.2, 249.8, 267.0]),
    ([414.2, 411.4, 415.9, 413.3, 416.8], [249.4, 245.1, 240.4, 252.3, 236.1]),
    ([413.1, 415.4, 417.3, 412.0, 416.1, 413.7], [245.2, 250.7, 239.7, 256.0, 242.8, 263.5]),
    ([416.2, 413.4, 417.9, 415.3, 418.8], [247.5, 242.3, 254.6, 237.6, 268.0]),
    ([415.1, 417.4, 419.3, 414.0, 418.1], [249.5, 244.2, 253.0, 239.7, 258.4]),
    ([416.7, 418.2, 415.4, 419.9, 417.3], [246.5, 251.0, 241.9, 257.8, 269.1]),
    ([421.8, 417.1, 419.4, 421.3], [249.2, 241.6, 252.5, 245.5]),
    ([417.0, 421.1, 418.7, 420.2, 417.4, 419.6, 419.3], [245.4, 253.3, 247.9, 239.3, 262.0, 275.4, 236.0]),
    ([423.8, 419.1, 421.4, 423.3, 418.0], [251.5, 247.2, 242.5, 254.4, 265.0]),
    ([423.1, 420.7, 422.2, 419.4], [247.3, 252.8, 241.8, 258.1]),
    ([424.9, 422.3, 425.8, 421.1, 423.4], [249.6, 244.4, 256.7, 239.7, 266.3]),
    ([426.3, 421.0, 425.1, 422.7, 424.2], [251.6, 246.3, 255.1, 241.8, 256.8]),
    ([422.4, 426.9, 424.3, 427.8, 425.4], [248.6, 253.1, 244.0, 259.9, 280.3]),
    ([426.4, 428.3, 423.0, 427.1], [251.3, 243.7, 254.6, 260.8]),
    ([425.7, 427.2, 424.4, 428.9], [247.5, 255.4, 250.0, 238.6]),
    ([427.3, 430.8, 426.1, 428.4, 430.3], [253.6, 249.3, 244.6, 263.0, 242.5]),
    ([426.0, 430.1, 427.7, 429.2], [249.4, 254.9, 243.9, 264.5]),
    ([427.4, 431.9, 429.3], [251.7, 246.5, 258.8]),
    ([433.8, 429.1, 431.4, 433.3], [253.7, 248.4, 257.2, 236.8]),
    ([429.0, 433.1, 430.7, 432.2], [250.7, 255.2, 246.1, 261.9]),
    ([430.4, 434.9, 432.3], [253.4, 245.8, 256.7]),
    ([436.8, 432.1, 434.4, 436.3], [249.6, 257.5, 252.1, 243.0]),
    ([432.0, 436.1, 433.7], [255.7, 251.4, 246.7]),
    ([436.2, 433.4, 437.9], [251.5, 257.0, 263.0]),
    ([436.3, 439.8, 435.1], [253.8, 248.6, 240.9]),
    ([438.4, 440.3, 435.0], [255.8, 250.5, 259.5]),
    ([440.1, 437.7, 440.2, 437.4], [252.8, 257.3, 255.5, 247.9]),
    ([441.0, 442.3, 443.0, 443.6, 445.0], [262.2, 251.4, 256.3, 258.1, 260.4]),
]
right_core_a = [
    ([287.1, 283.6, 285.6, 282.2, 287.5, 285.5, 288.9, 288.1], [175.4, 180.0, 183.4, 178.0, 182.0, 174.2, 179.6, 185.5]),
    ([285.6, 287.6, 284.2, 288.5, 287.5, 290.9, 290.1, 286.6], [178.0, 183.7, 173.9, 180.8, 185.7, 177.8, 182.2, 176.1]),
    ([289.6, 286.2, 290.5, 288.5, 292.9, 292.1, 288.6, 290.6], [180.8, 177.3, 184.1, 188.4, 178.1, 182.7, 186.1, 180.7]),
    ([288.2, 292.5, 290.5, 293.9, 294.1, 290.6, 292.6, 289.2], [184.8, 177.0, 182.4, 188.3, 180.7, 186.4, 176.6, 183.5]),
    ([294.5, 292.5, 295.9, 295.1, 292.6, 294.6, 291.2, 295.5], [188.5, 180.6, 185.0, 178.9, 183.5, 180.0, 186.8, 191.1]),
    ([294.5, 297.9, 297.1, 293.6, 296.6, 293.2, 297.5, 295.5], [180.9, 185.5, 188.9, 183.5, 187.5, 179.7, 185.1, 191.0]),
    ([299.9, 299.1, 295.6, 297.6, 295.2, 299.5, 297.5, 300.9], [183.5, 189.2, 179.4, 186.3, 191.2, 183.3, 187.7, 181.6]),
    ([301.1, 297.6, 299.6, 296.2, 301.5, 299.5, 302.9, 302.1], [186.3, 182.8, 189.6, 193.9, 183.6, 188.2, 191.6, 186.2]),
    ([299.6, 301.6, 298.2, 302.5, 301.5, 304.9, 304.1, 300.6], [190.3, 182.5, 187.9, 193.8, 186.2, 191.9, 182.1, 189.0]),
    ([303.6, 300.2, 304.5, 302.5, 306.9, 306.1, 302.6, 304.6], [194.0, 186.1, 190.5, 184.4, 189.0, 185.5, 192.3, 196.6]),
    ([302.2, 306.5, 304.5, 307.9, 308.1, 304.6, 306.6, 303.2], [186.4, 191.0, 194.4, 189.0, 193.0, 185.2, 190.6, 196.5]),
    ([308.5, 306.5, 309.9, 309.1, 306.6, 308.6, 305.2, 309.5], [189.0, 194.7, 184.9, 191.8, 196.7, 188.8, 193.2, 187.1]),
    ([308.5, 311.9, 311.1, 307.6, 310.6, 307.2, 311.5, 309.5], [191.8, 188.3, 195.1, 199.4, 189.1, 193.7, 197.1, 191.7]),
    ([313.9, 313.1, 309.6, 311.6, 309.2, 313.5, 311.5, 314.9], [195.8, 188.0, 193.4, 199.3, 191.7, 197.4, 187.6, 194.5]),
    ([315.1, 311.6, 313.6, 310.2, 315.5, 313.5, 316.9, 316.1], [199.5, 191.6, 196.0, 189.9, 194.5, 191.0, 197.8, 202.1]),
    ([313.6, 315.6, 312.2, 316.5, 315.5, 318.9, 318.1, 314.6], [191.9, 196.5, 199.9, 194.5, 198.5, 190.7, 196.1, 202.0]),
    ([317.6, 314.2, 318.5, 316.5, 320.9, 320.1, 316.6, 318.6], [194.5, 200.2, 190.4, 197.3, 202.2, 194.3, 198.7, 192.6]),
    ([316.2, 320.5, 318.5, 321.9, 322.1, 318.6, 320.6, 317.2], [197.3, 193.8, 200.6, 204.9, 194.6, 199.2, 202.6, 197.2]),
]
right_core_b = [
    ([322.5, 320.5, 323.9, 323.1, 320.6, 322.6, 319.2, 323.5], [201.3, 193.5, 198.9, 204.8, 197.2, 202.9, 193.1, 200.0]),
    ([322.5, 325.9, 325.1, 321.6, 324.6, 321.2, 325.5, 323.5], [205.0, 197.1, 201.5, 195.4, 200.0, 196.5, 203.3, 207.6]),
    ([327.9, 327.1, 323.6, 325.6, 323.2, 327.5, 325.5, 328.9], [197.4, 202.0, 205.4, 200.0, 204.0, 196.2, 201.6, 207.5]),
    ([329.1, 325.6, 327.6, 324.2, 329.5, 327.5, 330.9, 330.1], [200.0, 205.7, 195.9, 202.8, 207.7, 199.8, 204.2, 198.1]),
    ([327.6, 329.6, 326.2, 330.5, 329.5, 332.9, 332.1, 328.6], [202.8, 199.3, 206.1, 210.4, 200.1, 204.7, 208.1, 202.7]),
    ([331.6, 328.2, 332.5, 330.5, 334.9, 334.1, 330.6, 332.6], [206.8, 199.0, 204.4, 210.3, 202.7, 208.4, 198.6, 205.5]),
    ([330.2, 334.5, 332.5, 335.9, 336.1, 332.6, 334.6, 331.2], [210.5, 202.6, 207.0, 200.9, 205.5, 202.0, 208.8, 213.1]),
    ([336.5, 334.5, 337.9, 337.1, 334.6, 336.6, 333.2, 337.5], [202.9, 207.5, 210.9, 205.5, 209.5, 201.7, 207.1, 213.0]),
    ([336.5, 339.9, 339.1, 335.6, 338.6, 335.2, 339.5, 337.5], [205.5, 211.2, 201.4, 208.3, 213.2, 205.3, 209.7, 203.6]),
    ([341.9, 341.1, 337.6, 339.6, 337.2, 341.5, 339.5, 342.9], [208.3, 204.8, 211.6, 215.9, 205.6, 210.2, 213.6, 208.2]),
    ([343.1, 339.6, 341.6, 338.2, 343.5, 341.5, 344.9, 344.1], [212.3, 204.5, 209.9, 215.8, 208.2, 213.9, 204.1, 211.0]),
    ([341.6, 343.6, 340.2, 344.5, 343.5, 346.9, 346.1, 342.6], [216.0, 208.1, 212.5, 206.4, 211.0, 207.5, 214.3, 218.6]),
    ([345.6, 342.2, 346.5, 344.5, 348.9, 348.1, 344.6, 346.6], [208.4, 213.0, 216.4, 211.0, 215.0, 207.2, 212.6, 218.5]),
    ([344.2, 348.5, 346.5, 349.9, 350.1, 346.6, 348.6, 345.2], [211.0, 216.7, 206.9, 213.8, 218.7, 210.8, 215.2, 209.1]),
    ([350.5, 348.5, 351.9, 351.1, 348.6, 350.6, 347.2, 351.5], [213.8, 210.3, 217.1, 221.4, 211.1, 215.7, 219.1, 213.7]),
    ([350.5, 353.9, 353.1, 349.6, 352.6, 349.2, 353.5, 351.5], [217.8, 210.0, 215.4, 221.3, 213.7, 219.4, 209.6, 216.5]),
    ([355.9, 355.1, 351.6, 353.6, 351.2, 355.5, 353.5, 356.9], [221.5, 213.6, 218.0, 211.9, 216.5, 213.0, 219.8, 224.1]),
    ([357.1, 353.6, 355.6, 352.2, 357.5, 355.5, 358.9, 358.1], [213.9, 218.5, 221.9, 216.5, 220.5, 212.7, 218.1, 224.0]),
    ([355.6, 357.6, 354.2, 358.5, 357.5, 360.9, 360.1, 356.6], [216.5, 222.2, 212.4, 219.3, 224.2, 216.3, 220.7, 214.6]),
    ([359.6, 356.2, 360.5, 358.5, 362.9, 362.1, 358.6, 360.6], [219.3, 215.8, 222.6, 226.9, 216.6, 221.2, 224.6, 219.2]),
]
right_core_c = [
    ([358.2, 362.5, 360.5, 363.9, 364.1, 360.6, 362.6, 359.2], [223.3, 215.5, 220.9, 226.8, 219.2, 224.9, 215.1, 222.0]),
    ([364.5, 362.5, 365.9, 365.1, 362.6, 364.6, 361.2, 365.5], [227.0, 219.1, 223.5, 217.4, 222.0, 218.5, 225.3, 229.6]),
    ([364.5, 367.9, 367.1, 363.6, 366.6, 363.2, 367.5, 365.5], [219.4, 224.0, 227.4, 222.0, 226.0, 218.2, 223.6, 229.5]),
    ([369.9, 369.1, 365.6, 367.6, 365.2, 369.5, 367.5, 370.9], [222.0, 227.7, 217.9, 224.8, 229.7, 221.8, 226.2, 220.1]),
    ([371.1, 367.6, 369.6, 366.2, 371.5, 369.5, 372.9, 372.1], [224.8, 221.3, 228.1, 232.4, 222.1, 226.7, 230.1, 224.7]),
    ([369.6, 371.6, 368.2, 372.5, 371.5, 374.9, 374.1, 370.6], [228.8, 221.0, 226.4, 232.3, 224.7, 230.4, 220.6, 227.5]),
    ([373.6, 370.2, 374.5, 372.5, 376.9, 376.1, 372.6, 374.6], [232.5, 224.6, 229.0, 222.9, 227.5, 224.0, 230.8, 235.1]),
    ([372.2, 376.5, 374.5, 377.9, 378.1, 374.6, 376.6, 373.2], [224.9, 229.5, 232.9, 227.5, 231.5, 223.7, 229.1, 235.0]),
    ([378.5, 376.5, 379.9, 379.1, 376.6, 378.6, 375.2, 379.5], [227.5, 233.2, 223.4, 230.3, 235.2, 227.3, 231.7, 225.6]),
    ([378.5, 381.9, 381.1, 377.6, 380.6, 377.2, 381.5, 379.5], [230.3, 226.8, 233.6, 237.9, 227.6, 232.2, 235.6, 230.2]),
    ([383.9, 383.1, 379.6, 381.6, 379.2, 383.5, 381.5, 384.9], [234.3, 226.5, 231.9, 237.8, 230.2, 235.9, 226.1, 233.0]),
    ([385.1, 381.6, 383.6, 380.2, 385.5, 383.5, 386.9, 386.1], [238.0, 230.1, 234.5, 228.4, 233.0, 229.5, 236.3, 240.6]),
    ([383.6, 385.6, 382.2, 386.5, 385.5, 388.9, 388.1, 384.6], [230.4, 235.0, 238.4, 233.0, 237.0, 229.2, 234.6, 240.5]),
    ([387.6, 384.2, 388.5, 386.5, 390.9, 390.1, 386.6, 388.6], [233.0, 238.7, 228.9, 235.8, 240.7, 232.8, 237.2, 231.1]),
    ([386.2, 390.5, 388.5, 391.9, 392.1, 388.6, 390.6, 387.2], [235.8, 232.3, 239.1, 243.4, 233.1, 237.7, 241.1, 235.7]),
    ([392.5, 390.5, 393.9, 393.1, 390.6, 392.6, 389.2, 393.5], [239.8, 232.0, 237.4, 243.3, 235.7, 241.4, 231.6, 238.5]),
    ([392.5, 395.9, 395.1, 391.6, 394.6, 391.2, 395.5, 393.5], [243.5, 235.6, 240.0, 233.9, 238.5, 235.0, 241.8, 246.1]),
    ([397.9, 397.1, 393.6, 395.6], [235.9, 240.5, 243.9, 238.5]),
]
outliers = ([235.0, 288.9, 296.8], [143.2, 244.4, 241.8])

x_ticks = [200, 250, 300, 350, 400, 450]
y_ticks = [150, 200, 250]
x_label = "Sustainable Yield (Million crabs)"
y_label = "Sustainable Revenue (Million $)"

# ---- assemble long table ----
yields, revenues = [], []
for seg in (left_a, left_b, left_c, left_core, right_a, right_b, right_c, right_d,
            right_core_a, right_core_b, right_core_c, [outliers]):
    for xs, ys in seg:
        for xv, yv in zip(xs, ys, strict=True):
            yields.append(xv)
            revenues.append(yv)
df = pd.DataFrame({"yield": yields, "revenue": revenues})

sns.set_theme(style="white")
plt.rcParams["font.family"] = ["Liberation Sans", "DejaVu Sans"]

fig = plt.figure(figsize=(6.54, 6.56), dpi=100)
ax = fig.add_axes([0.127, 0.096, 0.865, 0.893])
sns.scatterplot(data=df, x="yield", y="revenue", ax=ax, color="#BEBEBE",
                s=12, linewidth=0, alpha=1, legend=False)

ax.set_xlim(159.3, 458.5)
ax.set_ylim(136.4, 286.6)
ax.set_xticks(x_ticks)
ax.set_yticks(y_ticks)
ax.set_xlabel(x_label, fontsize=15, color="#1a1a1a", labelpad=1)
ax.set_ylabel(y_label, fontsize=15, color="#1a1a1a", labelpad=5)
ax.tick_params(axis="both", which="major", direction="out", length=5, width=1.6,
               color="#1a1a1a", labelsize=13.2, labelcolor="#1a1a1a",
               bottom=True, left=True)
ax.tick_params(axis="x", pad=7)
ax.tick_params(axis="y", pad=3)
for sp in ax.spines.values():
    sp.set_visible(True)
    sp.set_color("#7f7f7f")
    sp.set_linewidth(1.3)

fig.savefig("out.png", dpi=100)
